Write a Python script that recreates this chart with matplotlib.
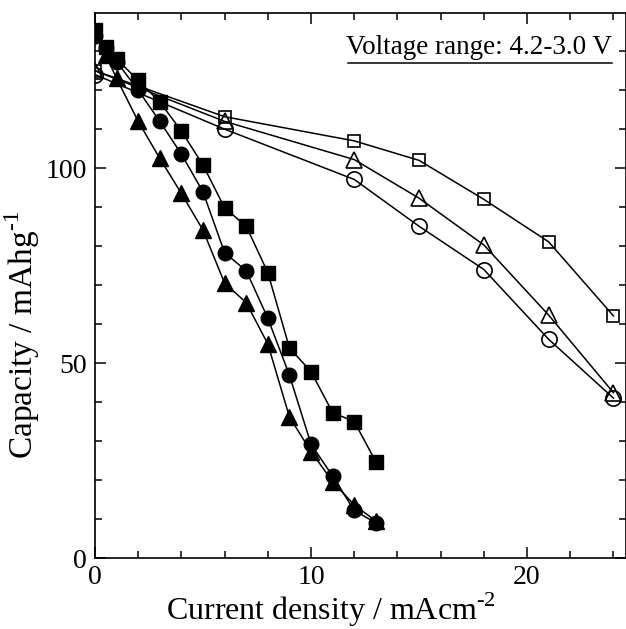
import matplotlib
matplotlib.use("Agg")
import matplotlib.pyplot as plt
from matplotlib.ticker import MultipleLocator

plt.rcParams['font.family'] = ['Liberation Serif', 'DejaVu Serif']
plt.rcParams['mathtext.fontset'] = 'custom'
plt.rcParams['mathtext.rm'] = 'Liberation Serif'

# filled symbols (low current densities)
x_fill = [0, 0.5, 1, 2, 3, 4, 5, 6, 7, 8, 9, 10, 11, 12, 13]
sq_fill = [135.5, 131, 128, 122.5, 117, 109.5, 100.8, 89.8, 85.1, 73.2, 53.9, 47.8, 37.3, 35, 24.7]
ci_fill = [134, 130.7, 127.3, 120, 112, 103.6, 93.9, 78.3, 73.7, 61.5, 46.9, 29.2, 21, 12.2, 9]
x_tri_fill = [0.5, 1, 2, 3, 4, 5, 6, 7, 8, 9, 10, 11, 12, 13]
tri_fill = [129, 123, 112, 102.5, 93.5, 84.1, 70.5, 65.5, 54.9, 36.2, 27.3, 19.6, 13.6, 9.5]

# open symbols (high current densities)
x_open = [0, 6, 12, 15, 18, 21, 24]
sq_open = [125, 113.2, 107, 102, 92, 81.1, 62.1]
tri_open = [125, 112, 102.2, 92.3, 80.3, 62.3, 42.4]
ci_open = [124, 110, 97.1, 85.1, 74, 56.1, 41]

fig = plt.figure(figsize=(6.26, 6.29), dpi=100)
ax = fig.add_axes([95/626, 71/629, 531/626, 545/629])

lw = 1.1
ax.plot(x_open, sq_open, '-s', color='black', lw=lw, ms=8, mfc='none', mew=1.2)
ax.plot(x_open, tri_open, '-^', color='black', lw=lw, ms=11, mfc='none', mew=1.2)
ax.plot(x_open, ci_open, '-o', color='black', lw=lw, ms=11, mfc='none', mew=1.2)

ax.plot(x_fill, sq_fill, '-s', color='black', lw=lw, ms=9.5)
ax.plot(x_tri_fill, tri_fill, '-^', color='black', lw=lw, ms=11)
ax.plot(x_fill, ci_fill, '-o', color='black', lw=lw, ms=10.5)

ax.set_xlim(0, 24.58)
ax.set_ylim(0, 139.8)

ax.xaxis.set_major_locator(MultipleLocator(10))
ax.xaxis.set_minor_locator(MultipleLocator(2))
ax.yaxis.set_major_locator(MultipleLocator(50))
ax.yaxis.set_minor_locator(MultipleLocator(10))
ax.tick_params(which='both', direction='in', top=True, right=True, width=1.1, labelsize=20)
ax.tick_params(which='major', length=8)
ax.tick_params(which='minor', length=5)
ax.tick_params(axis='x', pad=5)
ax.tick_params(axis='y', pad=6)
for s in ax.spines.values():
    s.set_linewidth(1.2)

ax.set_xlabel(r'Current density / mAcm$^{\text{-}2}$', fontsize=23)
ax.xaxis.set_label_coords(0.445, -0.06)
ax.set_ylabel(r'Capacity / mAhg$^{\text{-}1}$', fontsize=24)
ax.yaxis.set_label_coords(-0.1, 0.41)

ax.text(0.974, 0.925, 'Voltage range: 4.2-3.0 V', transform=ax.transAxes,
        ha='right', va='baseline', fontsize=19.5)
ax.plot([0.476, 0.974], [0.909, 0.909], transform=ax.transAxes, color='black', lw=1.1,
        clip_on=False)

fig.savefig('out.png', dpi=100)
